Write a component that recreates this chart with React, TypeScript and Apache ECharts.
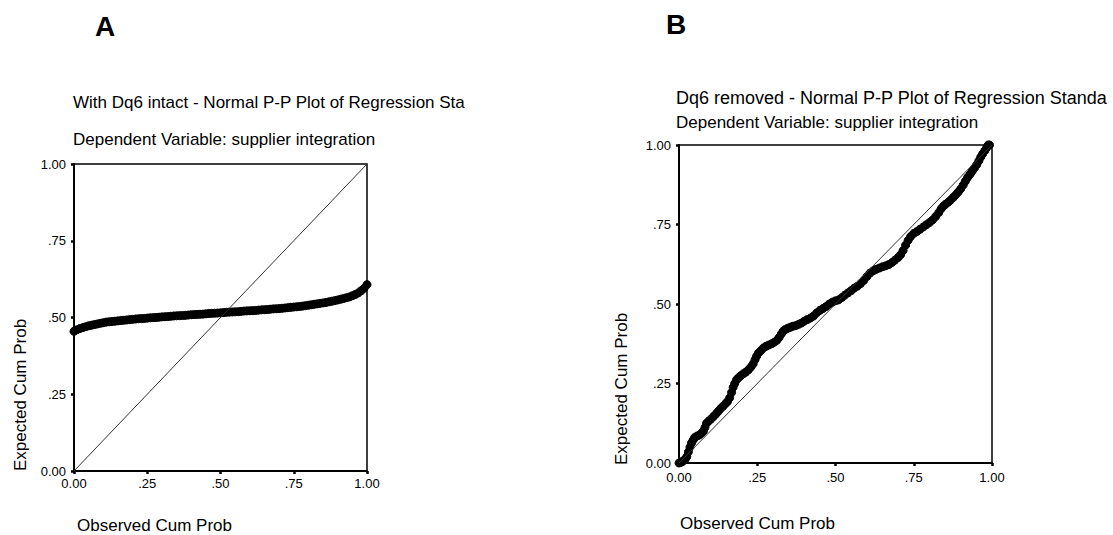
import React, { useEffect, useRef } from "react";
import * as echarts from "echarts";

// Panel A: observed vs expected cumulative probability (Dq6 intact)
const aObserved = [
  0.0, 0.01, 0.02, 0.03, 0.04, 0.05, 0.06, 0.07, 0.08, 0.09, 0.1, 0.11, 0.12, 0.13, 0.14, 0.15, 0.16, 0.17,
  0.18, 0.19, 0.2, 0.21, 0.22, 0.23, 0.24, 0.25, 0.26, 0.27, 0.28, 0.29, 0.3, 0.31, 0.32, 0.33, 0.34, 0.35,
  0.36, 0.37, 0.38, 0.39, 0.4, 0.41, 0.42, 0.43, 0.44, 0.45, 0.46, 0.47, 0.48, 0.49, 0.5, 0.51, 0.52, 0.53,
  0.54, 0.55, 0.56, 0.57, 0.58, 0.59, 0.6, 0.61, 0.62, 0.63, 0.64, 0.65, 0.66, 0.67, 0.68, 0.69, 0.7, 0.71,
  0.72, 0.73, 0.74, 0.75, 0.76, 0.77, 0.78, 0.79, 0.8, 0.81, 0.82, 0.83, 0.84, 0.85, 0.86, 0.87, 0.88, 0.89,
  0.9, 0.91, 0.92, 0.93, 0.94, 0.95, 0.96, 0.97, 0.98, 0.99, 1.0,
];
const aExpected = [
  0.455, 0.46, 0.464, 0.467, 0.47, 0.473, 0.475, 0.477, 0.479, 0.481, 0.483, 0.485, 0.486, 0.487, 0.488,
  0.489, 0.49, 0.491, 0.492, 0.493, 0.494, 0.495, 0.496, 0.4965, 0.497, 0.498, 0.499, 0.4995, 0.5, 0.501,
  0.502, 0.5025, 0.503, 0.504, 0.505, 0.5055, 0.506, 0.5065, 0.507, 0.508, 0.509, 0.5095, 0.51, 0.5105,
  0.511, 0.512, 0.513, 0.5135, 0.514, 0.5145, 0.515, 0.516, 0.517, 0.5175, 0.518, 0.5185, 0.519, 0.52,
  0.521, 0.5215, 0.522, 0.5225, 0.523, 0.524, 0.525, 0.5255, 0.526, 0.527, 0.528, 0.5285, 0.529, 0.53,
  0.531, 0.532, 0.533, 0.534, 0.535, 0.536, 0.537, 0.5385, 0.54, 0.5415, 0.543, 0.5445, 0.546, 0.5475,
  0.549, 0.551, 0.553, 0.555, 0.557, 0.5595, 0.562, 0.5645, 0.567, 0.571, 0.575, 0.58, 0.587, 0.595, 0.607,
];

// Panel B: observed vs expected cumulative probability (Dq6 removed)
const bObserved = [
  0.0, 0.005, 0.01, 0.015, 0.02, 0.025, 0.03, 0.035, 0.04, 0.045, 0.05, 0.058, 0.065, 0.072, 0.078, 0.083,
  0.088, 0.095, 0.102, 0.11, 0.118, 0.125, 0.132, 0.14, 0.148, 0.155, 0.162, 0.168, 0.173, 0.178, 0.184,
  0.19, 0.198, 0.206, 0.214, 0.222, 0.23, 0.237, 0.243, 0.248, 0.254, 0.262, 0.27, 0.278, 0.287, 0.296,
  0.305, 0.313, 0.32, 0.327, 0.333, 0.34, 0.348, 0.356, 0.364, 0.373, 0.382, 0.391, 0.4, 0.41, 0.42, 0.43,
  0.44, 0.45, 0.46, 0.47, 0.48, 0.49, 0.5, 0.51, 0.52, 0.53, 0.54, 0.55, 0.56, 0.57, 0.58, 0.59, 0.6, 0.61,
  0.62, 0.63, 0.64, 0.65, 0.66, 0.67, 0.68, 0.69, 0.7, 0.708, 0.716, 0.724, 0.732, 0.74, 0.75, 0.76, 0.77,
  0.78, 0.79, 0.8, 0.81, 0.82, 0.83, 0.838, 0.845, 0.852, 0.86, 0.868, 0.876, 0.884, 0.892, 0.9, 0.908,
  0.915, 0.922, 0.93, 0.937, 0.944, 0.951, 0.958, 0.964, 0.97, 0.977, 0.983, 0.988, 0.992,
];
const bExpected = [
  0.0, 0.002, 0.004, 0.008, 0.012, 0.02, 0.035, 0.05, 0.063, 0.072, 0.08, 0.085, 0.088, 0.094, 0.1, 0.112,
  0.125, 0.132, 0.138, 0.146, 0.154, 0.162, 0.17, 0.178, 0.186, 0.193, 0.205, 0.222, 0.238, 0.25, 0.262,
  0.268, 0.275, 0.281, 0.286, 0.293, 0.302, 0.312, 0.325, 0.336, 0.346, 0.354, 0.362, 0.367, 0.371, 0.375,
  0.38, 0.386, 0.395, 0.406, 0.415, 0.42, 0.424, 0.427, 0.43, 0.432, 0.436, 0.44, 0.446, 0.451, 0.456,
  0.462, 0.472, 0.48, 0.486, 0.492, 0.5, 0.506, 0.51, 0.513, 0.52, 0.528, 0.535, 0.542, 0.55, 0.556, 0.564,
  0.574, 0.586, 0.597, 0.604, 0.609, 0.613, 0.617, 0.62, 0.624, 0.63, 0.638, 0.646, 0.655, 0.668, 0.685,
  0.7, 0.712, 0.722, 0.728, 0.735, 0.742, 0.749, 0.756, 0.764, 0.775, 0.788, 0.8, 0.808, 0.814, 0.82,
  0.827, 0.835, 0.843, 0.852, 0.862, 0.874, 0.886, 0.898, 0.908, 0.918, 0.928, 0.938, 0.95, 0.962, 0.972,
  0.982, 0.992, 1.0, 1.0,
];

// Reference diagonal
const diagonal = [
  [0, 0],
  [1, 1],
];

const tickValues = [0, 0.25, 0.5, 0.75, 1];
const tickLabels = ["0.00", ".25", ".50", ".75", "1.00"];

const titleA1 = "With Dq6 intact - Normal P-P Plot of Regression Sta";
const titleB1 = "Dq6 removed - Normal P-P Plot of Regression Standa";
const subTitle = "Dependent Variable: supplier integration";
const xName = "Observed Cum Prob";
const yName = "Expected Cum Prob";

const FONT = "'Liberation Sans', Arial, sans-serif";

function fmt(v: number) {
  const i = tickValues.findIndex((t) => Math.abs(t - v) < 1e-6);
  return i >= 0 ? tickLabels[i] : "";
}

function makeAxis(gridIndex: number, margin: number) {
  return {
    type: "value",
    gridIndex,
    min: 0,
    max: 1,
    interval: 0.25,
    axisLine: { show: true, onZero: false, lineStyle: { color: "#000", width: 2 } },
    axisTick: { show: true, inside: false, length: 3, lineStyle: { color: "#000", width: 2.5 } },
    axisLabel: {
      show: true,
      margin,
      color: "#000",
      fontSize: 13,
      fontFamily: FONT,
      formatter: (v: number) => fmt(v),
    },
    splitLine: { show: false },
  };
}

function zip(xs: number[], ys: number[]) {
  return xs.map((x, i) => [x, ys[i]]);
}

export default function App() {
  const ref = useRef<HTMLDivElement>(null);
  useEffect(() => {
    if (!ref.current) return;
    const chart = echarts.init(ref.current, undefined, { renderer: "svg" });
    const txt = (text: string, x: number, y: number, size: number, extra: any = {}) => ({
      type: "text",
      x,
      y,
      ...extra,
      style: {
        text,
        fontSize: size,
        fontFamily: FONT,
        fill: "#000",
        textVerticalAlign: "middle",
        ...(extra.style || {}),
      },
    });
    chart.setOption({
      animation: false,
      backgroundColor: "#fff",
      grid: [
        { left: 74, top: 164, width: 293, height: 307, show: true, borderColor: "#000", borderWidth: 1.5, backgroundColor: "transparent" },
        { left: 679, top: 145, width: 313, height: 318, show: true, borderColor: "#000", borderWidth: 1.5, backgroundColor: "transparent" },
      ],
      xAxis: [makeAxis(0, 6), makeAxis(1, 8)],
      yAxis: [makeAxis(0, 8), makeAxis(1, 8)],
      series: [
        {
          type: "line",
          xAxisIndex: 0,
          yAxisIndex: 0,
          data: diagonal,
          showSymbol: false,
          lineStyle: { color: "#333", width: 1 },
          silent: true,
        },
        {
          type: "scatter",
          xAxisIndex: 0,
          yAxisIndex: 0,
          data: zip(aObserved, aExpected),
          symbol: "circle",
          symbolSize: 8,
          itemStyle: { color: "#000", borderColor: "#000", borderWidth: 1, opacity: 1 },
        },
        {
          type: "line",
          xAxisIndex: 1,
          yAxisIndex: 1,
          data: diagonal,
          showSymbol: false,
          lineStyle: { color: "#333", width: 1 },
          silent: true,
        },
        {
          type: "scatter",
          xAxisIndex: 1,
          yAxisIndex: 1,
          data: zip(bObserved, bExpected),
          symbol: "circle",
          symbolSize: 8,
          itemStyle: { color: "#000", borderColor: "#000", borderWidth: 1, opacity: 1 },
        },
      ],
      graphic: [
        txt("A", 95, 26, 28, { style: { fontWeight: "bold" } }),
        txt("B", 666, 24, 28, { style: { fontWeight: "bold" } }),
        txt(titleA1, 73, 102, 17),
        txt(subTitle, 73, 139, 17),
        txt(titleB1, 676, 98, 18),
        txt(subTitle, 676, 122, 17),
        txt(xName, 77, 525, 17),
        txt(xName, 680, 523, 17),
        txt(yName, 20, 471, 17, { rotation: Math.PI / 2, style: { textAlign: "left" } }),
        txt(yName, 621, 465, 17, { rotation: Math.PI / 2, style: { textAlign: "left" } }),
      ],
    });
    return () => chart.dispose();
  }, []);
  return (
    <div
      ref={ref}
      style={{ position: "absolute", left: 0, top: 0, width: 1113, height: 535, background: "#fff" }}
    />
  );
}
